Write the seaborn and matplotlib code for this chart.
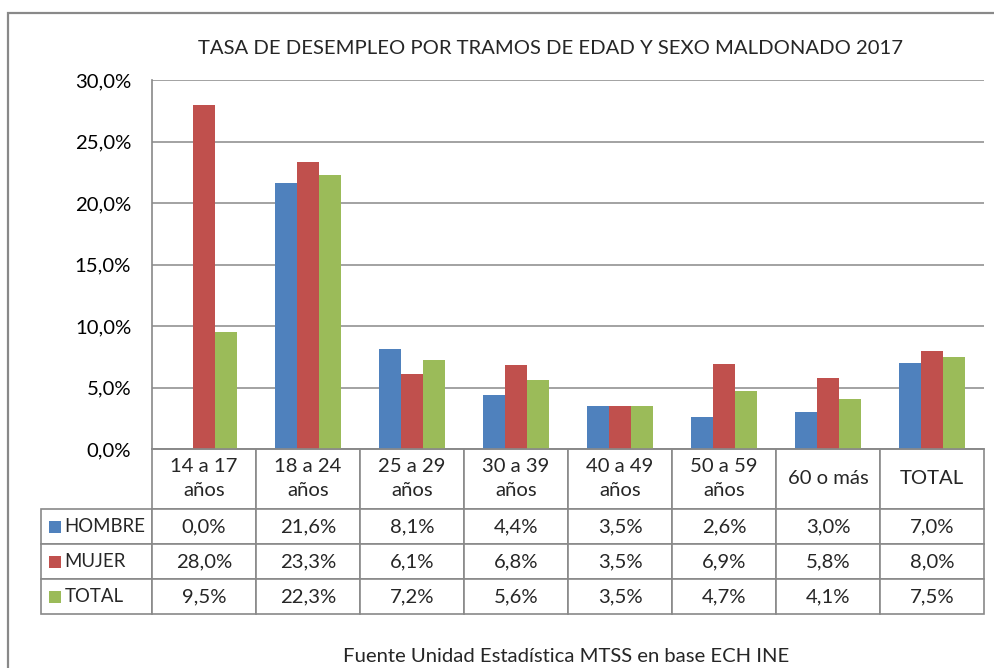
import numpy as np
import pandas as pd
import matplotlib.pyplot as plt
import seaborn as sns
from matplotlib.patches import Rectangle
from matplotlib.ticker import FuncFormatter

sns.set_style("white")
plt.rcParams['font.family'] = ['Lato', 'DejaVu Sans']

# ====================== DATA ======================
tramos = ["14 a 17\naños", "18 a 24\naños", "25 a 29\naños", "30 a 39\naños",
          "40 a 49\naños", "50 a 59\naños", "60 o más", "TOTAL"]
series = ["HOMBRE", "MUJER", "TOTAL"]
hombre = [0.0, 21.6, 8.1, 4.4, 3.5, 2.6, 3.0, 7.0]
mujer = [28.0, 23.3, 6.1, 6.8, 3.5, 6.9, 5.8, 8.0]
total = [9.5, 22.3, 7.2, 5.6, 3.5, 4.7, 4.1, 7.5]
colores = ['#4F81BD', '#C0504D', '#9BBB59']

df = pd.DataFrame({
    'tramo': tramos * 3,
    'serie': np.repeat(series, len(tramos)),
    'valor': hombre + mujer + total,
})

GRAY = '#898989'
FS = 14.6
W, H = 994, 668
AX_W, AX_H = 832, 369   # plot area in pixels: x 152..984, y 80..449

fig = plt.figure(figsize=(W / 100, H / 100), dpi=100)
ax = fig.add_axes([152 / W, 1 - 449 / H, AX_W / W, AX_H / H])

sns.barplot(data=df, x='tramo', y='valor', hue='serie', palette=colores,
            saturation=1, width=0.64, gap=0, ax=ax, legend=False, edgecolor='none')

ax.set_ylim(0, 30)
ax.set_yticks(np.arange(0, 30.1, 5))
ax.yaxis.set_major_formatter(FuncFormatter(lambda v, p: f"{v:.1f}%".replace('.', ',')))
ax.grid(axis='y', color=GRAY, lw=1.1)
ax.set_axisbelow(True)
ax.set_xlabel('')
ax.set_ylabel('')
ax.tick_params(axis='x', length=0, labelbottom=False)
ax.tick_params(axis='y', length=0, pad=15, labelsize=FS, colors='black')
for s in ['top', 'right']:
    ax.spines[s].set_visible(False)
for s in ['left', 'bottom']:
    ax.spines[s].set_color(GRAY)
    ax.spines[s].set_linewidth(1.2)

# ====================== DATA TABLE ======================
def fmt(v):
    return f"{v:.1f}%".replace('.', ',')

cell_text = [[fmt(v) for v in row] for row in (hombre, mujer, total)]

hdr_h, row_h = 60 / AX_H, 35 / AX_H
tbl_h = hdr_h + 3 * row_h
tbl = ax.table(cellText=cell_text, rowLabels=series, colLabels=tramos,
               colWidths=[1 / len(tramos)] * len(tramos),
               cellLoc='center', rowLoc='left',
               bbox=[0, -tbl_h, 1, tbl_h])
tbl._autoColumns = []   # fixed width for the row label column
tbl.auto_set_font_size(False)
tbl.set_fontsize(FS)
for (r, c), cell in tbl.get_celld().items():
    cell.set_edgecolor(GRAY)
    cell.set_linewidth(1.2)
    cell.set_height(hdr_h if r == 0 else row_h)
    if r == 0:
        cell.get_text().set_linespacing(1.5)
    if c == -1:
        cell.set_width(111 / AX_W)
        cell.PAD = 0.21
        cell.get_text().set_fontsize(13.4)

# colour keys in the row label cells
for i, col in enumerate(colores):
    yc = -hdr_h - row_h * (i + 0.5)
    ax.add_patch(Rectangle(((49 - 152) / AX_W, yc - 6 / AX_H), 12 / AX_W, 12 / AX_H,
                           transform=ax.transAxes, facecolor=col,
                           edgecolor='none', clip_on=False))

# ====================== TEXT & FRAME ======================
fig.text(550 / W, 1 - 48 / H, "TASA DE DESEMPLEO POR TRAMOS DE EDAD Y SEXO MALDONADO 2017",
         ha='center', va='center', fontsize=FS)
fig.text(566 / W, 1 - 656 / H, "Fuente Unidad Estadística MTSS en base ECH INE",
         ha='center', va='center', fontsize=FS)
fig.patches.append(Rectangle((8 / W, -0.1), 2, 1.1 - 13 / H, transform=fig.transFigure,
                             fill=False, edgecolor=GRAY, lw=1.6))

fig.savefig('out.png', dpi=100)
